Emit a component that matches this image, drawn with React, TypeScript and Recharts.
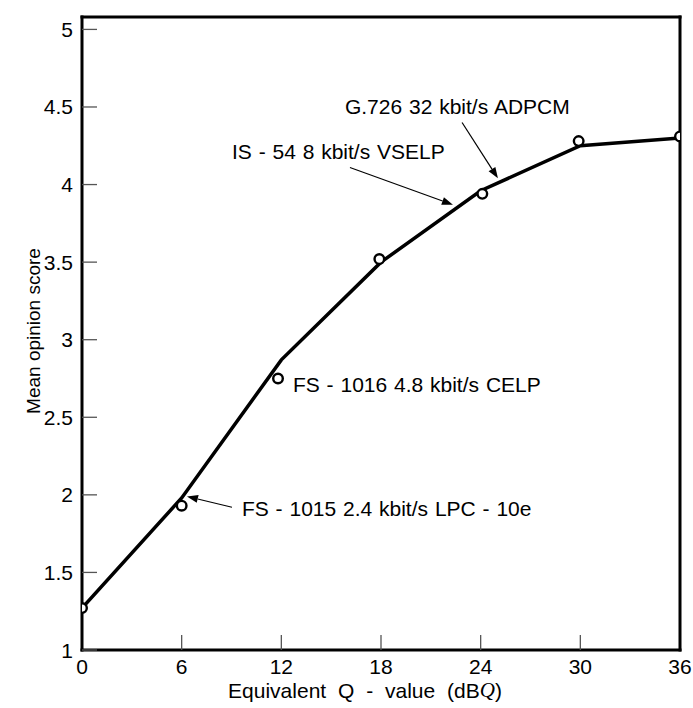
import React from "react";
import { ComposedChart, Line, Scatter, XAxis, YAxis, ReferenceLine, ReferenceDot } from "recharts";

// axis ticks
const qTicks = [0, 6, 12, 18, 24, 30, 36];
const mosTicks = [1, 1.5, 2, 2.5, 3, 3.5, 4, 4.5, 5];

// fitted curve (the black line)
const curveQ = [0, 6, 12, 18, 24, 30, 36];
const curveMos = [1.27, 1.98, 2.87, 3.5, 3.96, 4.25, 4.3];

// measured coders (open circles)
const pointQ = [0, 6.0, 11.8, 17.9, 24.1, 29.9, 36];
const pointMos = [1.27, 1.93, 2.75, 3.52, 3.94, 4.28, 4.31];

// coder annotations
const noteText = [
  "G.726 32 kbit/s ADPCM",
  "IS - 54 8 kbit/s VSELP",
  "FS - 1016 4.8 kbit/s CELP",
  "FS - 1015 2.4 kbit/s LPC - 10e",
];
const noteQ = [15.83, 9.03, 12.7, 9.63];
const noteMos = [4.5, 4.21, 2.71, 1.915];

// arrows: [fromQ, fromMos, toQ, toMos]
const arrowList = [
  [22.88, 4.4, 25.04, 4.04],
  [16.13, 4.11, 22.33, 3.87],
  [9.03, 1.92, 6.32, 1.99],
];

const FONT = "'Liberation Sans', Arial, Helvetica, sans-serif";

const curve = curveQ.map((q, i) => ({ q, mos: curveMos[i] }));
const points = pointQ.map((q, i) => ({ q, mos: pointMos[i] }));

const OpenCircle = (props: any) => {
  const { cx, cy } = props;
  return <circle cx={cx} cy={cy} r={4.8} fill="#fff" stroke="#000" strokeWidth={2.4} />;
};

const Arrow = (props: any) => {
  const { x1, y1, x2, y2 } = props;
  const ang = Math.atan2(y2 - y1, x2 - x1);
  const len = 11;
  const w = 4;
  const bx = x2 - len * Math.cos(ang);
  const by = y2 - len * Math.sin(ang);
  const px = -Math.sin(ang) * w;
  const py = Math.cos(ang) * w;
  return (
    <g>
      <line x1={x1} y1={y1} x2={bx} y2={by} stroke="#000" strokeWidth={1.2} />
      <polygon points={`${x2},${y2} ${bx + px},${by + py} ${bx - px},${by - py}`} fill="#000" />
    </g>
  );
};

const NoteText = (text: string) => (props: any) => (
  <text
    x={props.cx}
    y={props.cy}
    dominantBaseline="central"
    fontFamily={FONT}
    fontSize={21}
    wordSpacing={1}
    fill="#000"
  >
    {text}
  </text>
);

const BottomTick = (props: any) => (
  <text x={props.x} y={props.y} dy="0.72em" textAnchor="middle" fontFamily={FONT} fontSize={21} fill="#000">
    {props.payload.value}
  </text>
);

const LeftTick = (props: any) => (
  <text
    x={props.x}
    y={props.y}
    textAnchor="end"
    dominantBaseline="central"
    fontFamily={FONT}
    fontSize={21}
    fill="#000"
  >
    {props.payload.value}
  </text>
);

const XTitle = (props: any) => {
  const vb = props.viewBox;
  return (
    <text
      x={vb.x + vb.width / 2 - 16}
      y={vb.y + 40}
      textAnchor="middle"
      dominantBaseline="central"
      fontFamily={FONT}
      fontSize={21}
      wordSpacing={6}
      fill="#000"
    >
      Equivalent Q - value (dB
      <tspan fontFamily="'Liberation Serif', 'Times New Roman', serif" fontStyle="italic">
        Q
      </tspan>
      )
    </text>
  );
};

const YTitle = () => {
  const cx = 33;
  const cy = 331;
  return (
    <text
      x={cx}
      y={cy}
      transform={`rotate(-90 ${cx} ${cy})`}
      textAnchor="middle"
      dominantBaseline="central"
      fontFamily={FONT}
      fontSize={19}
      fill="#000"
    >
      Mean opinion score
    </text>
  );
};

const frame = { stroke: "#000", strokeWidth: 3, strokeLinecap: "square" as const };
const tickMark = { stroke: "#555", strokeWidth: 1.3 };

export default function App() {
  return (
    <div style={{ position: "absolute", left: 0, top: 0, background: "#fff" }}>
      <ComposedChart width={693} height={708} margin={{ top: 16, right: 12, bottom: 18, left: 12 }}>
        <XAxis
          dataKey="q"
          type="number"
          domain={[0, 36]}
          ticks={qTicks}
          allowDataOverflow
          height={40}
          tickSize={-15}
          tickMargin={24}
          axisLine={frame}
          tickLine={tickMark}
          tick={BottomTick}
          label={{ content: XTitle }}
        />
        <XAxis
          xAxisId="top"
          orientation="top"
          type="number"
          domain={[0, 36]}
          ticks={qTicks}
          allowDataOverflow
          height={1}
          tickSize={-17}
          axisLine={frame}
          tickLine={tickMark}
          tick={false}
        />
        <YAxis
          type="number"
          domain={[1, 5.08]}
          ticks={mosTicks}
          allowDataOverflow
          width={70}
          tickSize={-15}
          tickMargin={24}
          axisLine={frame}
          tickLine={tickMark}
          tick={LeftTick}
          label={{ content: YTitle }}
        />
        <YAxis
          yAxisId="right"
          orientation="right"
          type="number"
          domain={[1, 5.08]}
          ticks={mosTicks}
          allowDataOverflow
          width={1}
          tickSize={-15}
          axisLine={frame}
          tickLine={tickMark}
          tick={false}
        />
        <Line
          data={curve}
          dataKey="mos"
          type="linear"
          stroke="#000"
          strokeWidth={3.5}
          dot={false}
          isAnimationActive={false}
        />
        <Scatter data={points} dataKey="mos" shape={OpenCircle} isAnimationActive={false} />
        {arrowList.map((a, i) => (
          <ReferenceLine
            key={`arrow-${i}`}
            segment={[
              { x: a[0], y: a[1] },
              { x: a[2], y: a[3] },
            ]}
            shape={Arrow}
          />
        ))}
        {noteText.map((t, i) => (
          <ReferenceDot key={`note-${i}`} x={noteQ[i]} y={noteMos[i]} r={0} shape={NoteText(t)} />
        ))}
      </ComposedChart>
    </div>
  );
}
